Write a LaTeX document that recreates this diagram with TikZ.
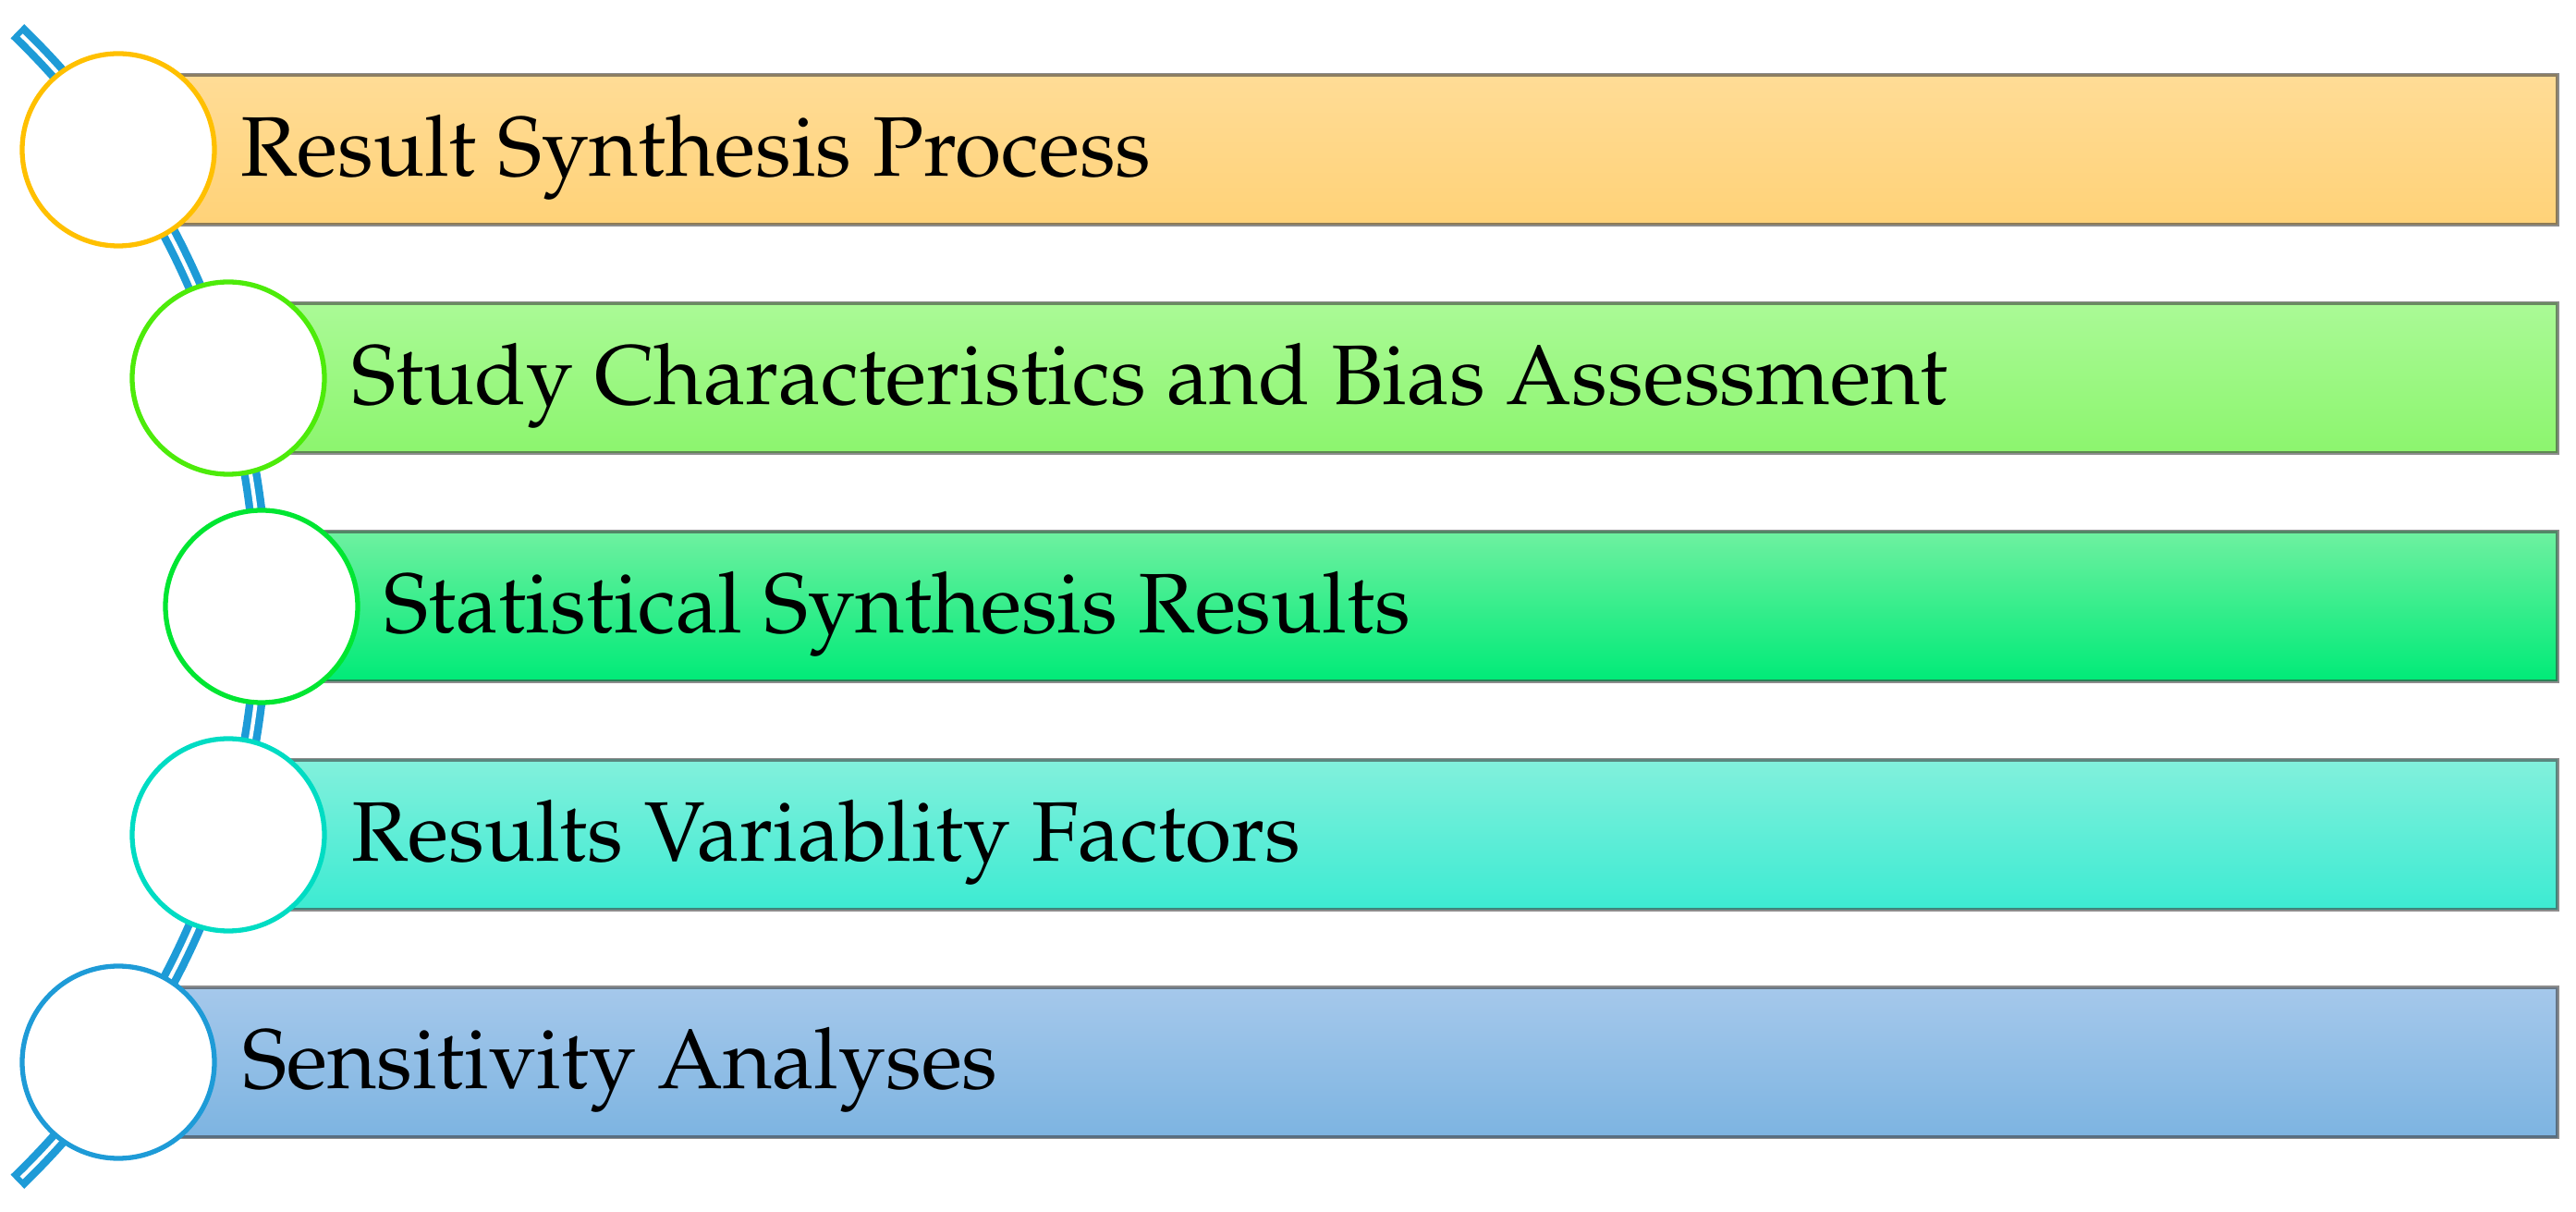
\documentclass[tikz,border=0pt]{standalone}
\usepackage[T1]{fontenc}
\usepackage{mathpazo}
\usepackage{xcolor}
\usetikzlibrary{positioning}

\definecolor{spine}{HTML}{1E9BD7}
\definecolor{ringA}{HTML}{FFC000}
\definecolor{ringB}{HTML}{4DEB0A}
\definecolor{ringC}{HTML}{00E632}
\definecolor{ringD}{HTML}{00DCC3}
\definecolor{ringE}{HTML}{1E9BD7}
\definecolor{barAtop}{HTML}{FFDC96}
\definecolor{barAbot}{HTML}{FFD278}
\definecolor{barBtop}{HTML}{AAFA96}
\definecolor{barBbot}{HTML}{8CF56E}
\definecolor{barCtop}{HTML}{6EF0A0}
\definecolor{barCbot}{HTML}{00EB78}
\definecolor{barDtop}{HTML}{82F0DC}
\definecolor{barDbot}{HTML}{3CEBD2}
\definecolor{barEtop}{HTML}{A5C8EB}
\definecolor{barEbot}{HTML}{7DB4E1}

\begin{document}
\begin{tikzpicture}
			\tikzstyle{every node}=[font=\fontsize{26}{31}\selectfont]
			\tikzstyle{ring}=[circle, line width=1.5pt, fill=white, minimum size=2.08cm, inner sep=0pt]
			\tikzstyle{bar}=[rectangle, draw=black!75, draw opacity=0.6, line width=1.1pt, minimum height=1.62cm, inner sep=0pt]
			\tikzstyle{label}=[anchor=base west, inner sep=0pt]
			\useasboundingbox (0,0) rectangle (27.87,-13.11);
			% spine behind the rings
			\coordinate (spinetop) at ({-5.82+8.65*cos(46)},{-6.56+8.65*sin(46)});
			\coordinate (spinein) at ({-5.82+8.65*cos(45.6)},{-6.56+8.65*sin(45.6)});
			\draw [line width=6pt, spine] (spinetop) arc[start angle=46, end angle=-46, radius=8.65];
			\draw [line width=1.2pt, white] (spinein) arc[start angle=45.6, end angle=-45.6, radius=8.65];
			% bars
			\node [bar, top color=barAtop, bottom color=barAbot, minimum width=26.39cm] (barA) at (14.475,-1.62) {};
			\node [bar, top color=barBtop, bottom color=barBbot, minimum width=25.20cm] (barB) at (15.07,-4.09) {};
			\node [bar, top color=barCtop, bottom color=barCbot, minimum width=24.84cm] (barC) at (15.25,-6.56) {};
			\node [bar, top color=barDtop, bottom color=barDbot, minimum width=25.20cm] (barD) at (15.07,-9.03) {};
			\node [bar, top color=barEtop, bottom color=barEbot, minimum width=26.39cm] (barE) at (14.475,-11.49) {};
			% rings
			\node [ring, draw=ringA] (ringA) at (1.28,-1.62) {};
			\node [ring, draw=ringB] (ringB) at (2.47,-4.09) {};
			\node [ring, draw=ringC] (ringC) at (2.83,-6.56) {};
			\node [ring, draw=ringD] (ringD) at (2.47,-9.03) {};
			\node [ring, draw=ringE] (ringE) at (1.28,-11.49) {};
			% texts
			\node [label] (textA) at (2.60,-1.91) {Result Synthesis Process};
			\node [label] (textB) at (3.80,-4.38) {Study Characteristics and Bias Assessment};
			\node [label] (textC) at (4.15,-6.85) {Statistical Synthesis Results};
			\node [label] (textD) at (3.80,-9.32) {Results Variablity Factors};
			\node [label] (textE) at (2.62,-11.78) {Sensitivity Analyses};
		\end{tikzpicture}
\end{document}
